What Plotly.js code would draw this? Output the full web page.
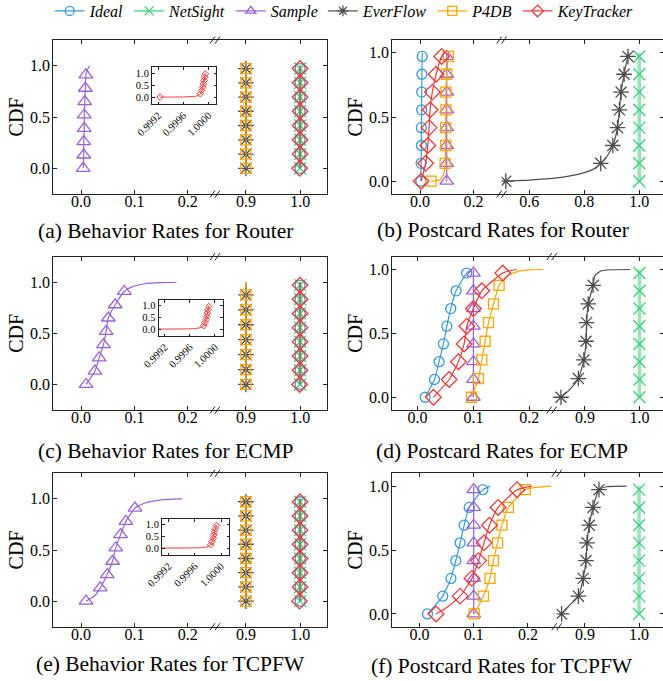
<!DOCTYPE html>
<html><head><meta charset="utf-8">
<script src="https://cdn.plot.ly/plotly-3.0.1.min.js"></script>
<style>html,body{margin:0;padding:0;overflow:hidden;background:#fff}#chart{width:668px;height:681px}</style>
</head><body><div id="chart"></div>
<script>
const W = 668, H = 681;
const FONT = 'Liberation Serif, Times New Roman, serif';

// ---- series meta ----
const SERIES = ['Ideal','NetSight','Sample','EverFlow','P4DB','KeyTracker'];
const COLORS = ['#3a9ad9','#3ccf7e','#9a62d8','#4d4d4d','#ffa500','#f03838'];
const SYMBOLS = ['circle-open','x-thin-open','triangle-up-open','asterisk-open','square-open','diamond-open'];
const MSIZE = [10, 12, 12, 13, 10, 12];

// ---- CDF levels at which markers are drawn ----
const L8 = [0,0.139,0.278,0.417,0.556,0.694,0.833,0.972];
const L7 = [0,0.146,0.292,0.438,0.584,0.730,0.876];
const LS = [0,0.13,0.26,0.39,0.52,0.65,0.78,0.91];

// ---- constant columns ----
const COL10_8 = [1,1,1,1,1,1,1,1];
const COL09_8 = [0.9,0.9,0.9,0.9,0.9,0.9,0.9,0.9];
const COL09_7 = [0.9,0.9,0.9,0.9,0.9,0.9,0.9];
const COL01_8 = [0.1,0.1,0.1,0.1,0.1,0.1,0.1,0.1];
const TOP10_X = [1.0], TOP09_X = [0.9], TOP01_X = [0.1], TOP_Y = [1.0];

// ---- (a) Behavior Rates for Router ----
const A_SAMPLE_X = [0.004,0.005,0.005,0.006,0.006,0.007,0.008,0.009];
const A_SAMPLE_EX = [0.012,0.016], A_SAMPLE_EY = [0.96,1.0];
const A_KEY_X = [0.99923,0.99987,0.99989,0.99991,0.99992,0.99993,0.99994,0.99995];
const A_KEY_EX = [0.9994,0.9996,0.9998,0.99985,0.99996], A_KEY_EY = [0.003,0.008,0.04,0.09,1.0];

// ---- (c) Behavior Rates for ECMP ----
const C_SAMPLE_X = [0.0094,0.026,0.034,0.042,0.047,0.051,0.064,0.081];
const C_SAMPLE_EX = [0.095,0.12,0.15,0.179], C_SAMPLE_EY = [0.955,0.985,0.996,1.0];
const C_KEY_X = [0.99900,0.99982,0.99984,0.99986,0.99987,0.99988,0.99989,0.99990];
const C_KEY_EX = [0.9995,0.9997,0.99978,0.99991], C_KEY_EY = [0.004,0.02,0.07,1.0];

// ---- (e) Behavior Rates for TCPFW ----
const E_SAMPLE_X = [0.0094,0.036,0.049,0.059,0.065,0.074,0.084,0.101];
const E_SAMPLE_EX = [0.025,0.12,0.15,0.19], E_SAMPLE_EY = [0.05,0.96,0.99,1.0];
const E_KEY_X = [0.99900,0.99984,0.99986,0.99988,0.99989,0.99990,0.99991,0.99993];
const E_KEY_EX = [0.9995,0.9997,0.9998,0.99994], E_KEY_EY = [0.004,0.015,0.06,1.0];

// ---- (b) Postcard Rates for Router ----
const B_IDEAL_X = [0.003,0.004,0.005,0.005,0.006,0.006,0.007,0.008];
const B_IDEAL_EX = [0.009], B_IDEAL_EY = [1.0];
const B_EVER_X = [0.515,0.86,0.904,0.921,0.928,0.934,0.945,0.959];
const B_EVER_EX = [0.6,0.7,0.78,0.83,0.885,0.963], B_EVER_EY = [0.008,0.025,0.055,0.09,0.2,1.0];
const B_P4DB_X = [0.041,0.094,0.096,0.096,0.097,0.097,0.1,0.106];
const B_P4DB_EX = [0.075,0.09,0.108], B_P4DB_EY = [0.01,0.06,1.0];
const B_KEY_X = [0.004,0.021,0.029,0.034,0.0375,0.046,0.06,0.081];
const B_KEY_EX = [0.09], B_KEY_EY = [1.0];

// ---- (d) Postcard Rates for ECMP ----
const D_IDEAL_X = [0.0138,0.0304,0.0387,0.0464,0.0525,0.0596,0.069,0.088];
const D_IDEAL_EX = [0.097], D_IDEAL_EY = [1.0];
const D_EVER_X = [0.856,0.888,0.898,0.902,0.903,0.906,0.915];
const D_EVER_EX = [0.872,0.918,0.93,0.95,0.983], D_EVER_EY = [0.06,0.95,0.99,0.998,1.0];
const D_P4DB_X = [0.0964,0.109,0.115,0.121,0.127,0.136,0.146];
const D_P4DB_EX = [0.16,0.18,0.2,0.224], D_P4DB_EY = [0.95,0.985,0.997,1.0];
const D_KEY_X = [0.0286,0.0566,0.0732,0.0834,0.0882,0.1,0.115,0.1525];
const D_KEY_EX = [0.165,0.1775], D_KEY_EY = [0.99,1.0];

// ---- (f) Postcard Rates for TCPFW ----
const F_IDEAL_X = [0.0148,0.043,0.058,0.067,0.075,0.0825,0.0917,0.117];
const F_IDEAL_EX = [0.13], F_IDEAL_EY = [1.0];
const F_EVER_X = [0.857,0.888,0.897,0.902,0.904,0.908,0.915,0.926];
const F_EVER_EX = [0.87,0.94,0.977], F_EVER_EY = [0.06,0.995,1.0];
const F_P4DB_X = [0.101,0.118,0.130,0.1365,0.144,0.152,0.164,0.195];
const F_P4DB_EX = [0.215,0.2425], F_P4DB_EY = [0.99,1.0];
const F_KEY_X = [0.0308,0.075,0.0967,0.109,0.119,0.129,0.145,0.18];
const F_KEY_EX = [0.05,0.195,0.207], F_KEY_EY = [0.05,0.99,1.0];

// ---- tick values ----
const TICKS_Y = [0,0.5,1.0];
const TICKS_L = [0,0.1,0.2], TICKS_R = [0.9,1.0];
const TICKS_B_L = [0,0.2], TICKS_B_R = [0.6,0.8,1.0];
const TICKS_IN_X = [0.9992,0.9996,1.0];

const CAPTIONS = ['(a) Behavior Rates for Router','(b) Postcard Rates for Router',
  '(c) Behavior Rates for ECMP','(d) Postcard Rates for ECMP',
  '(e) Behavior Rates for TCPFW','(f) Postcard Rates for TCPFW'];

// ---- layout geometry (pixels) ----
const GEOM = [
 {l:53.3, b:215, r:326.7, t:40, bo:194, lr:[-0.052,0.251], rr:[0.843,1.049], lt:TICKS_L, rt:TICKS_R, yr:[-0.25,1.25], cx:166, cy:231.5},
 {l:392.3, b:501.7, r:664, t:40, bo:194, lr:[-0.104,0.306], rr:[0.5,1.09], lt:TICKS_B_L, rt:TICKS_B_R, yr:[-0.1,1.1], cx:503, cy:229.5},
 {l:53.3, b:215, r:326.7, t:256.7, bo:410, lr:[-0.052,0.251], rr:[0.843,1.049], lt:TICKS_L, rt:TICKS_R, yr:[-0.25,1.25], cx:166, cy:451},
 {l:392.3, b:551.7, r:664, t:256.7, bo:410, lr:[-0.045,0.24], rr:[0.839,1.045], lt:TICKS_L, rt:TICKS_R, yr:[-0.1,1.1], cx:502, cy:451},
 {l:53.3, b:215, r:326.7, t:473.3, bo:626.7, lr:[-0.052,0.251], rr:[0.843,1.049], lt:TICKS_L, rt:TICKS_R, yr:[-0.25,1.25], cx:170, cy:664},
 {l:392.3, b:556.7, r:664, t:473.3, bo:626.7, lr:[-0.05,0.253], rr:[0.848,1.046], lt:TICKS_L, rt:TICKS_R, yr:[-0.1,1.1], cx:502, cy:666}
];
const INSETS = [
 {l:152, r:216, t:67.3, bo:104.3},
 {l:158.5, r:222.5, t:300, bo:336},
 {l:162, r:229, t:519, bo:555}
];

const data = [];
const layout = {
  width: W, height: H, margin:{l:0,r:0,t:0,b:0,autoexpand:false},
  paper_bgcolor:'#fff', plot_bgcolor:'rgba(0,0,0,0)',
  font:{family:FONT, size:16, color:'#000'},
  showlegend:true,
  legend:{orientation:'h', x:0.516, xanchor:'center', y:1 + 6/H, yanchor:'top',
    font:{family:FONT, size:16, style:'italic', color:'#000'}, bgcolor:'rgba(0,0,0,0)', traceorder:'normal'},
  shapes:[], annotations:[]
};
const px = x => x / W, py = y => 1 - y / H;
const axId = n => n === 1 ? 'x' : 'x' + n;
const ayId = n => n === 1 ? 'y' : 'y' + n;
const axKey = n => n === 1 ? 'xaxis' : 'xaxis' + n;
const ayKey = n => n === 1 ? 'yaxis' : 'yaxis' + n;

function lineOf(mx, lv, ex, ey) {
  const pts = mx.map((x, i) => [x, lv[i]]).concat(ex.map((x, i) => [x, ey[i]]));
  pts.sort((a, b) => a[1] - b[1] || a[0] - b[0]);
  return {x: pts.map(p => p[0]), y: pts.map(p => p[1])};
}
function addSeries(s, mx, lv, ex, ey, xa, ya, small) {
  const ln = lineOf(mx, lv, ex, ey);
  const isNet = s === 1 && !small;
  data.push({type:'scatter', mode:'lines', x:ln.x, y:ln.y, xaxis:xa, yaxis:ya, showlegend:false, hoverinfo:'skip',
    line:{color: isNet ? 'rgba(60,207,126,0.55)' : COLORS[s], width: isNet ? 3.5 : (small ? 1 : 1.2), shape:'spline', smoothing:0.5}});
  data.push({type:'scatter', mode:'markers', x:mx, y:lv, xaxis:xa, yaxis:ya, showlegend:false, hoverinfo:'skip',
    marker:{symbol:SYMBOLS[s], size: small ? 5 : MSIZE[s], color:COLORS[s], line:{color:COLORS[s], width: small ? 1 : 1.3}}});
}

// per panel series specs: [seriesIndex, markerX, levels, extraX, extraY, side]
const SPECS = [
 [[0,COL10_8,L8,TOP10_X,TOP_Y,'R'],[1,COL10_8,L8,TOP10_X,TOP_Y,'R'],[2,A_SAMPLE_X,LS,A_SAMPLE_EX,A_SAMPLE_EY,'L'],
  [3,COL09_8,L8,TOP09_X,TOP_Y,'R'],[4,COL09_8,L8,TOP09_X,TOP_Y,'R'],[5,A_KEY_X,L8,A_KEY_EX,A_KEY_EY,'R']],
 [[0,B_IDEAL_X,L8,B_IDEAL_EX,B_IDEAL_EY,'L'],[1,COL10_8,L8,TOP10_X,TOP_Y,'R'],[2,COL01_8,L8,TOP01_X,TOP_Y,'L'],
  [3,B_EVER_X,L8,B_EVER_EX,B_EVER_EY,'R'],[4,B_P4DB_X,L8,B_P4DB_EX,B_P4DB_EY,'L'],[5,B_KEY_X,L8,B_KEY_EX,B_KEY_EY,'L']],
 [[0,COL10_8,L8,TOP10_X,TOP_Y,'R'],[1,COL10_8,L8,TOP10_X,TOP_Y,'R'],[2,C_SAMPLE_X,LS,C_SAMPLE_EX,C_SAMPLE_EY,'L'],
  [3,COL09_7,L7,TOP09_X,TOP_Y,'R'],[4,COL09_7,L7,TOP09_X,TOP_Y,'R'],[5,C_KEY_X,L8,C_KEY_EX,C_KEY_EY,'R']],
 [[0,D_IDEAL_X,L8,D_IDEAL_EX,D_IDEAL_EY,'L'],[1,COL10_8,L8,TOP10_X,TOP_Y,'R'],[2,COL01_8,L8,TOP01_X,TOP_Y,'L'],
  [3,D_EVER_X,L7,D_EVER_EX,D_EVER_EY,'R'],[4,D_P4DB_X,L7,D_P4DB_EX,D_P4DB_EY,'L'],[5,D_KEY_X,L8,D_KEY_EX,D_KEY_EY,'L']],
 [[0,COL10_8,L8,TOP10_X,TOP_Y,'R'],[1,COL10_8,L8,TOP10_X,TOP_Y,'R'],[2,E_SAMPLE_X,LS,E_SAMPLE_EX,E_SAMPLE_EY,'L'],
  [3,COL09_8,L8,TOP09_X,TOP_Y,'R'],[4,COL09_8,L8,TOP09_X,TOP_Y,'R'],[5,E_KEY_X,L8,E_KEY_EX,E_KEY_EY,'R']],
 [[0,F_IDEAL_X,L8,F_IDEAL_EX,F_IDEAL_EY,'L'],[1,COL10_8,L8,TOP10_X,TOP_Y,'R'],[2,COL01_8,L8,TOP01_X,TOP_Y,'L'],
  [3,F_EVER_X,L8,F_EVER_EX,F_EVER_EY,'R'],[4,F_P4DB_X,L8,F_P4DB_EX,F_P4DB_EY,'L'],[5,F_KEY_X,L8,F_KEY_EX,F_KEY_EY,'L']]
];
const INSET_KEYS = [[A_KEY_X,A_KEY_EX,A_KEY_EY],[C_KEY_X,C_KEY_EX,C_KEY_EY],[E_KEY_X,E_KEY_EX,E_KEY_EY]];

const AXLINE = {showline:true, linecolor:'#222', linewidth:1, ticks:'inside', ticklen:4, tickwidth:1, tickcolor:'#222',
  showgrid:false, zeroline:false, automargin:false};

// legend entries
SERIES.forEach((name, s) => {
  data.push({type:'scatter', mode:'lines+markers', name:name, x:[null], y:[null], xaxis:'x', yaxis:'y', hoverinfo:'skip',
    line:{color:COLORS[s], width:1.2}, marker:{symbol:SYMBOLS[s], size:9, color:COLORS[s], line:{color:COLORS[s], width:1.3}}});
});

GEOM.forEach((g, i) => {
  const nL = 2*i + 1, nR = 2*i + 2;
  const yd = [py(g.bo), py(g.t)];
  layout[axKey(nL)] = Object.assign({}, AXLINE, {domain:[px(g.l), px(g.b)], range:g.lr, tickvals:g.lt, tickformat:'.1f',
    anchor:ayId(nL), mirror:'ticks', tickfont:{size:16}, ticklabelstandoff:-7});
  layout[axKey(nR)] = Object.assign({}, AXLINE, {domain:[px(g.b), px(g.r)], range:g.rr, tickvals:g.rt, tickformat:'.1f',
    anchor:ayId(nR), mirror:'ticks', tickfont:{size:16}, ticklabelstandoff:-7});
  layout[ayKey(nL)] = Object.assign({}, AXLINE, {domain:yd, range:g.yr, tickvals:TICKS_Y, tickformat:'.1f', anchor:axId(nL),
    tickfont:{size:16}, ticklabelstandoff:-1, title:{text:'CDF', font:{size:20}, standoff:1}});
  layout[ayKey(nR)] = Object.assign({}, AXLINE, {domain:yd, range:g.yr, tickvals:TICKS_Y, anchor:axId(nR), side:'right',
    showticklabels:false});
  SPECS[i].forEach(sp => {
    const side = sp[5] === 'L' ? nL : nR;
    addSeries(sp[0], sp[1], sp[2], sp[3], sp[4], axId(side), ayId(side), false);
  });
  // axis break marks
  [g.t, g.bo].forEach(yy => {
    [-2.5, 2.5].forEach(dx => {
      layout.shapes.push({type:'line', xref:'paper', yref:'paper', x0:px(g.b+dx-2.5), y0:py(yy+3.5), x1:px(g.b+dx+2.5), y1:py(yy-3.5),
        line:{color:'#222', width:1}});
    });
  });
  layout.annotations.push({xref:'paper', yref:'paper', x:px(g.cx), y:py(g.cy), xanchor:'center', yanchor:'middle',
    showarrow:false, text:CAPTIONS[i], font:{size:21.5, family:FONT, color:'#000'}});
});

INSETS.forEach((g, k) => {
  const n = 13 + k;
  layout[axKey(n)] = Object.assign({}, AXLINE, {domain:[px(g.l), px(g.r)], range:[0.99910, 1.00012], tickvals:TICKS_IN_X,
    tickformat:'.4f', tickangle:-45, anchor:ayId(n), mirror:'ticks', ticklen:2.5, tickfont:{size:10.5}});
  layout[ayKey(n)] = Object.assign({}, AXLINE, {domain:[py(g.bo), py(g.t)], range:[-0.3, 1.25], tickvals:TICKS_Y,
    tickformat:'.1f', anchor:axId(n), mirror:'ticks', ticklen:2.5, tickfont:{size:10.5}});
  const kd = INSET_KEYS[k];
  addSeries(5, kd[0], L8, kd[1], kd[2], axId(n), ayId(n), true);
});

Plotly.newPlot('chart', data, layout, {staticPlot:true});
</script></body></html>
